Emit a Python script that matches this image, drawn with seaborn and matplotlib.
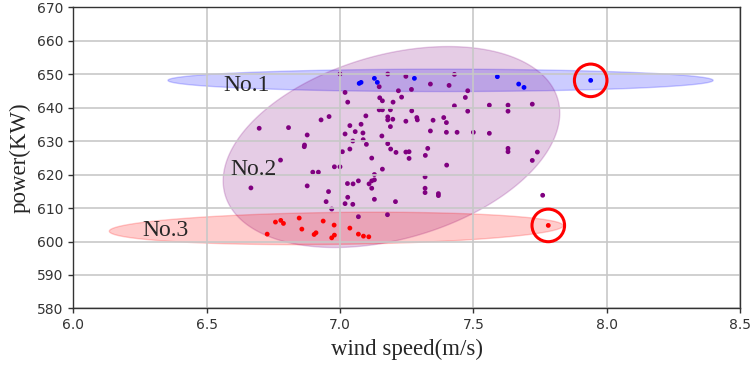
import numpy as np
import pandas as pd
import matplotlib
matplotlib.use("Agg")
import matplotlib.pyplot as plt
import seaborn as sns

# cluster No.1 (blue)
wind_1 = [7.072, 7.079, 7.129, 7.140, 7.279, 7.590, 7.670, 7.690, 7.940]
power_1 = [647.2, 647.5, 648.7, 647.5, 648.7, 649.2, 647.0, 646.0, 648.1]

# cluster No.2 (purple)
wind_2 = [7.147, 7.019, 7.029, 7.149, 7.159, 7.147, 7.159, 7.189, 7.179, 7.179,
          7.198, 7.097, 6.959, 6.929, 6.697, 6.807, 7.037, 7.079, 7.189, 6.877,
          7.019, 7.057, 7.086, 7.157, 7.087, 6.867, 6.866, 7.037, 7.099, 7.179,
          7.190, 7.009, 7.119, 6.777, 7.247, 7.219, 7.268, 7.339, 7.409, 7.479,
          7.231, 7.199, 7.470, 7.429, 7.560, 7.630, 7.721, 7.269, 7.479, 7.630,
          7.288, 7.290, 7.247, 7.349, 7.389, 7.399, 7.339, 7.399, 7.439, 7.560,
          7.210, 7.247, 7.259, 7.329, 7.320, 7.259, 7.630, 7.630, 7.740, 7.721,
          6.898, 6.919, 6.979, 7.159, 7.129, 6.666, 6.877, 6.957, 7.028, 7.049,
          7.069, 7.109, 7.119, 7.129, 7.119, 7.029, 6.948, 7.019, 7.048, 7.129,
          6.969, 7.069, 7.178, 7.400, 7.319, 7.319, 7.319, 7.369, 7.369, 7.208,
          7.760, 7.000, 7.179, 7.429, 7.048, 7.500, 7.000]
power_2 = [646.2, 644.5, 641.6, 642.9, 642.0, 639.3, 639.3, 639.3, 637.2, 636.3,
           636.5, 637.5, 637.3, 636.3, 633.8, 634.0, 634.6, 635.0, 634.3, 631.8,
           632.1, 632.8, 632.4, 631.5, 630.4, 628.8, 628.3, 627.6, 629.0, 629.2,
           627.6, 626.8, 624.9, 624.3, 649.3, 645.0, 645.4, 647.0, 646.6, 645.0,
           643.1, 641.6, 643.0, 640.5, 640.7, 640.7, 641.0, 639.0, 638.9, 638.9,
           637.0, 636.3, 635.9, 636.2, 637.0, 635.5, 633.0, 632.6, 632.6, 632.3,
           626.6, 626.7, 626.8, 627.8, 625.7, 624.8, 627.8, 626.8, 626.7, 624.2,
           620.7, 620.7, 622.3, 621.6, 620.0, 616.0, 616.6, 614.9, 617.3, 617.2,
           618.1, 617.2, 618.1, 618.4, 615.9, 613.2, 611.9, 611.3, 611.1, 612.6,
           609.7, 607.4, 608.0, 622.8, 619.3, 615.9, 614.6, 614.3, 613.7, 611.9,
           613.8, 650.0, 650.0, 649.9, 630.0, 632.6, 622.3]

# cluster No.3 (red)
wind_3 = [6.758, 6.778, 6.788, 6.847, 6.937, 6.978, 6.857, 7.037, 6.727, 6.903,
          6.910, 6.969, 6.979, 7.069, 7.088, 7.108, 7.781]
power_3 = [605.8, 606.3, 605.4, 607.0, 606.1, 604.9, 603.7, 604.0, 602.2, 602.1,
           602.6, 601.1, 601.9, 602.2, 601.6, 601.4, 604.8]

cluster_names = ["No.1", "No.2", "No.3"]
cluster_colors = ["blue", "purple", "red"]


def draw_ellipse(ax, cx, cy, a, b, angle, color):
    # a, b are semi-axes in m/s as seen on screen, angle is the on-screen tilt
    box = ax.get_window_extent()
    xr = np.ptp(ax.get_xlim()) / box.width
    yr = np.ptp(ax.get_ylim()) / box.height
    t = np.linspace(0, 2 * np.pi, 300)
    th = np.deg2rad(angle)
    ex = a * np.cos(t) * np.cos(th) - b * np.sin(t) * np.sin(th)
    ey = a * np.cos(t) * np.sin(th) + b * np.sin(t) * np.cos(th)
    ax.fill(cx + ex, cy + ey * yr / xr, facecolor=color, edgecolor=color,
            alpha=0.2, lw=1)


def main():
    df = pd.DataFrame({
        "wind": wind_1 + wind_2 + wind_3,
        "power": power_1 + power_2 + power_3,
        "cluster": (["No.1"] * len(wind_1) + ["No.2"] * len(wind_2)
                    + ["No.3"] * len(wind_3)),
    })

    sns.set_style("ticks", {"axes.grid": True})
    plt.rcParams["axes.axisbelow"] = "line"

    fig = plt.figure(figsize=(7.51, 3.65), dpi=100)
    ax = fig.add_axes([0.0976, 0.1548, 0.8878, 0.826])
    ax.set_xlim(6.0, 8.5)
    ax.set_ylim(580, 670)

    # cluster envelopes
    draw_ellipse(ax, 7.377, 648.1, 1.022, 0.042, 0.0, "blue")
    draw_ellipse(ax, 7.193, 628.2, 0.649, 0.345, 16.0, "purple")
    draw_ellipse(ax, 6.986, 603.9, 0.851, 0.060, 0.7, "red")

    sns.scatterplot(data=df, x="wind", y="power", hue="cluster",
                    hue_order=cluster_names,
                    palette=dict(zip(cluster_names, cluster_colors)),
                    s=12, linewidth=0, legend=False, ax=ax)

    # outliers
    ax.scatter([wind_1[-1], wind_3[-1]], [power_1[-1], power_3[-1]], s=550,
               facecolors="none", edgecolors="red", linewidths=2.2, zorder=3)

    serif = "Liberation Serif"
    ax.text(6.650, 644.9, "No.1", fontsize=17, family=serif, ha="center")
    ax.text(6.675, 619.85, "No.2", fontsize=17, family=serif, ha="center")
    ax.text(6.344, 601.7, "No.3", fontsize=17, family=serif, ha="center")

    ax.set_xticks(np.arange(6.0, 8.51, 0.5))
    ax.set_yticks(np.arange(580, 671, 10))
    ax.grid(True, color="#c8c8c8", lw=1.2)
    ax.tick_params(length=3.5, width=1, labelsize=10, colors="#333333")
    for sp in ax.spines.values():
        sp.set_color("#333333")
        sp.set_linewidth(1)

    ax.set_xlabel("wind speed(m/s)", fontsize=16.5, family=serif, labelpad=5)
    ax.set_ylabel("power(KW)", fontsize=16.5, family=serif, labelpad=5)

    fig.savefig("out.png", dpi=100)


if __name__ == "__main__":
    main()
